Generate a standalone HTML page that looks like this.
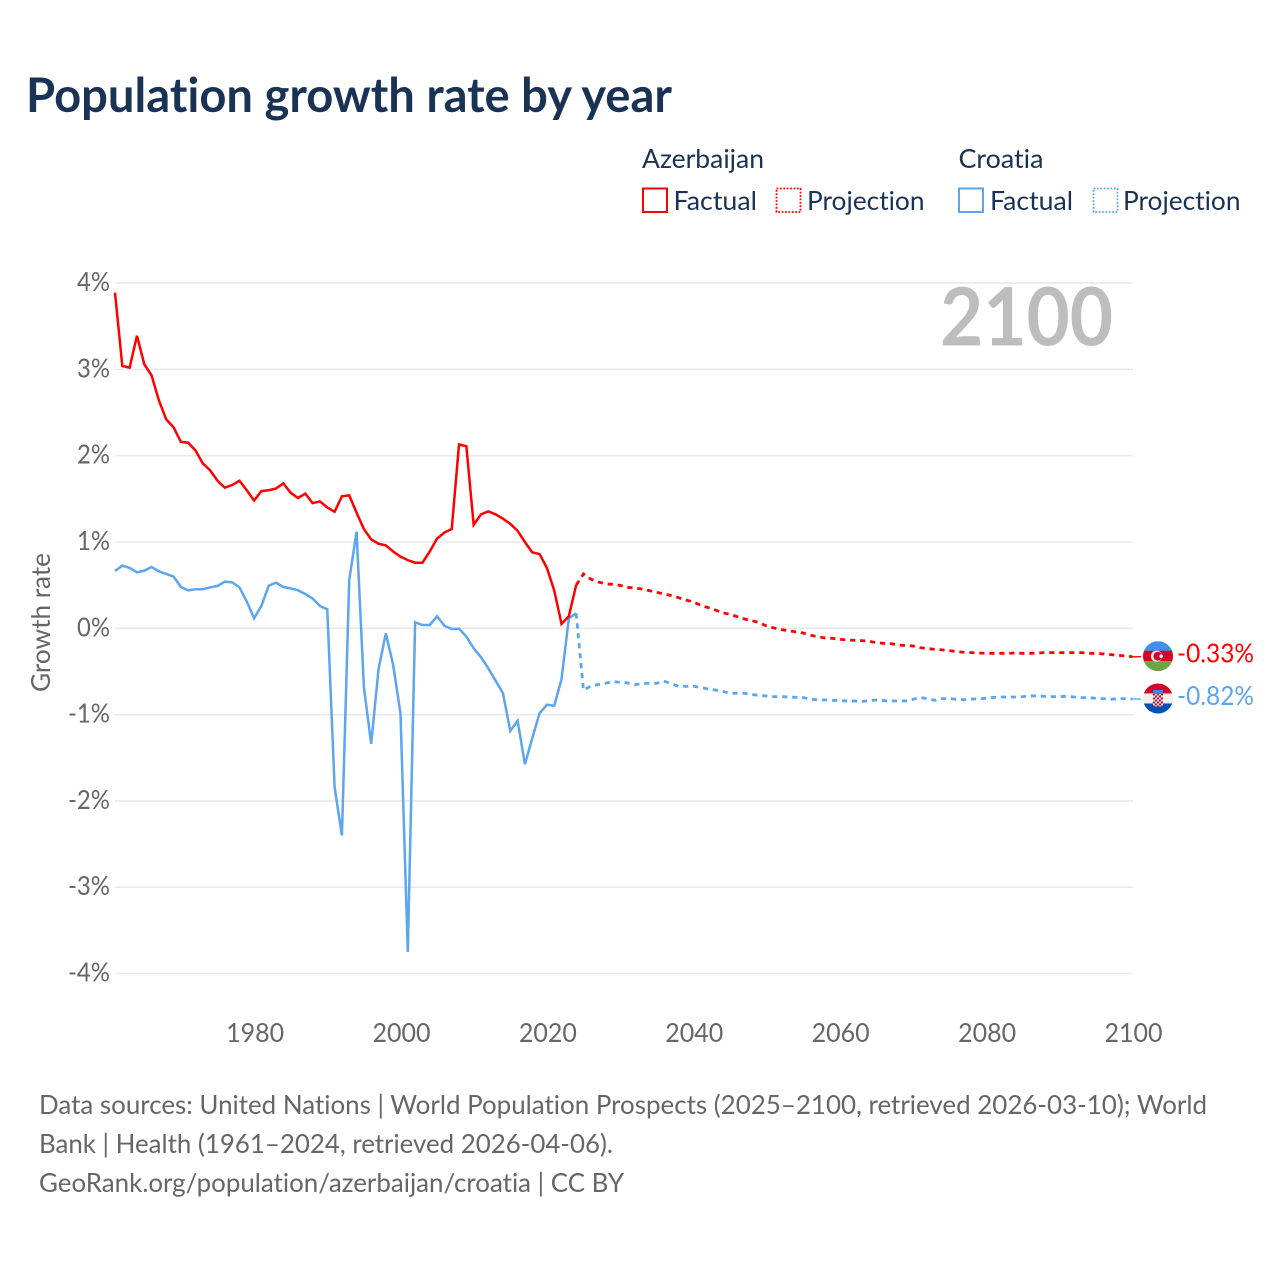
<!DOCTYPE html>
<html lang="en">
<head>
<meta charset="utf-8">
<title>Population growth rate by year</title>
<style>
html,body{margin:0;padding:0;background:#fff;}
svg{display:block;}
text{font-family:"Lato","Carlito","Liberation Sans",sans-serif;font-variant-ligatures:none;font-feature-settings:"liga" 0,"clig" 0;}
</style>
</head>
<body>
<svg id="chart" xmlns="http://www.w3.org/2000/svg" width="1280" height="1280" viewBox="0 0 1280 1280">
  <defs>
    <clipPath id="flag-clip-az"><circle cx="0" cy="0" r="15"/></clipPath>
    <clipPath id="flag-clip-hr"><circle cx="0" cy="0" r="15"/></clipPath>
    <pattern id="checker" x="-5" y="-5" width="4" height="4" patternUnits="userSpaceOnUse">
      <rect width="4" height="4" fill="#f0f0f0"/>
      <rect width="2" height="2" fill="#d80027"/>
      <rect x="2" y="2" width="2" height="2" fill="#d80027"/>
    </pattern>
  </defs>
  <rect width="1280" height="1280" fill="#ffffff"/>
  <text x="26" y="112" font-size="47.5" font-weight="700" fill="#1a3354" textLength="646" lengthAdjust="spacingAndGlyphs">Population growth rate by year</text>

  <g font-size="26.5" fill="#1a3354">
    <text x="642" y="168" textLength="122" lengthAdjust="spacingAndGlyphs">Azerbaijan</text>
    <rect x="643" y="188.5" width="24" height="23.5" fill="none" stroke="#ff0000" stroke-width="2"/>
    <text x="673.5" y="210" textLength="83.5" lengthAdjust="spacingAndGlyphs">Factual</text>
    <rect x="776.5" y="188.5" width="24" height="23.5" fill="none" stroke="#ff0000" stroke-width="1.8" stroke-dasharray="1.8 1.6"/>
    <text x="807" y="210" textLength="117.5" lengthAdjust="spacingAndGlyphs">Projection</text>
    <text x="958.5" y="168" textLength="85" lengthAdjust="spacingAndGlyphs">Croatia</text>
    <rect x="959" y="188.5" width="24" height="23.5" fill="none" stroke="#5ca5ef" stroke-width="2"/>
    <text x="990" y="210" textLength="83" lengthAdjust="spacingAndGlyphs">Factual</text>
    <rect x="1093.5" y="188.5" width="24" height="23.5" fill="none" stroke="#5ca5ef" stroke-width="1.8" stroke-dasharray="1.8 1.6"/>
    <text x="1123" y="210" textLength="117.5" lengthAdjust="spacingAndGlyphs">Projection</text>
  </g>

  <g id="grid"></g>
  <g id="y-ticks"></g>
  <g id="x-ticks"></g>

  <text x="940" y="345.5" font-size="80.5" font-weight="700" fill="#bdbdbd" textLength="173" lengthAdjust="spacingAndGlyphs">2100</text>
  <text transform="translate(50 622.5) rotate(-90)" text-anchor="middle" font-size="26.5" fill="#666666" textLength="139" lengthAdjust="spacingAndGlyphs">Growth rate</text>

  <g id="series"></g>

  <g id="end-az">
    <g clip-path="url(#flag-clip-az)">
      <rect x="-15" y="-15" width="30" height="10" fill="#3f8fec"/>
      <rect x="-15" y="-5.4" width="30" height="10.4" fill="#d80027"/>
      <rect x="-15" y="5" width="30" height="10" fill="#6da544"/>
      <circle cx="-1.5" cy="0" r="5.6" fill="#f0f0f0"/>
      <circle cx="-0.2" cy="0" r="4.4" fill="#d80027"/>
      <circle cx="3.2" cy="0" r="1.8" fill="#f0f0f0"/>
    </g>
    <text id="end-az-text" x="19" y="6.5" font-size="26.5" fill="#ff0000" textLength="77" lengthAdjust="spacingAndGlyphs"></text>
  </g>
  <g id="end-hr">
    <g clip-path="url(#flag-clip-hr)">
      <rect x="-15" y="-15" width="30" height="10" fill="#d80027"/>
      <rect x="-15" y="-5" width="30" height="10" fill="#f0f0f0"/>
      <rect x="-15" y="5" width="30" height="10" fill="#0052b4"/>
      <rect x="-5" y="-5" width="10" height="13" fill="url(#checker)"/>
      <rect x="-5" y="-8.5" width="10" height="4" fill="#338af3"/>
    </g>
    <text id="end-hr-text" x="19" y="6.5" font-size="26.5" fill="#5ca5ef" textLength="77" lengthAdjust="spacingAndGlyphs"></text>
  </g>

  <g font-size="26.5" fill="#666666">
    <text x="39" y="1114" textLength="1168" lengthAdjust="spacingAndGlyphs">Data sources: United Nations | World Population Prospects (2025–2100, retrieved 2026-03-10); World</text>
    <text x="39" y="1153" textLength="574" lengthAdjust="spacingAndGlyphs">Bank | Health (1961–2024, retrieved 2026-04-06).</text>
    <a><text x="39" y="1192" textLength="585" lengthAdjust="spacingAndGlyphs">GeoRank.org/population/azerbaijan/croatia | CC BY</text></a>
  </g>
</svg>

<script>
const yTickValues = [4, 3, 2, 1, 0, -1, -2, -3, -4];
const yTickLabels = ["4%", "3%", "2%", "1%", "0%", "-1%", "-2%", "-3%", "-4%"];
const xTickValues = [1980, 2000, 2020, 2040, 2060, 2080, 2100];
const xTickLabels = ["1980", "2000", "2020", "2040", "2060", "2080", "2100"];

const factualYears = [1961,1962,1963,1964,1965,1966,1967,1968,1969,1970,
  1971,1972,1973,1974,1975,1976,1977,1978,1979,1980,
  1981,1982,1983,1984,1985,1986,1987,1988,1989,1990,
  1991,1992,1993,1994,1995,1996,1997,1998,1999,2000,
  2001,2002,2003,2004,2005,2006,2007,2008,2009,2010,
  2011,2012,2013,2014,2015,2016,2017,2018,2019,2020,
  2021,2022,2023,2024];
const projectionYears = [2024,
  2025,2026,2027,2028,2029,2030,2031,2032,2033,2034,
  2035,2036,2037,2038,2039,2040,2041,2042,2043,2044,
  2045,2046,2047,2048,2049,2050,2051,2052,2053,2054,
  2055,2056,2057,2058,2059,2060,2061,2062,2063,2064,
  2065,2066,2067,2068,2069,2070,2071,2072,2073,2074,
  2075,2076,2077,2078,2079,2080,2081,2082,2083,2084,
  2085,2086,2087,2088,2089,2090,2091,2092,2093,2094,
  2095,2096,2097,2098,2099,2100];

const azerbaijanFactual = [3.89,3.04,3.02,3.39,3.06,2.93,2.64,2.42,2.33,2.16,
  2.15,2.06,1.91,1.83,1.71,1.63,1.66,1.71,1.60,1.48,
  1.59,1.60,1.62,1.68,1.57,1.51,1.56,1.45,1.47,1.40,
  1.35,1.53,1.54,1.34,1.15,1.03,0.98,0.96,0.89,0.83,
  0.79,0.76,0.76,0.89,1.04,1.11,1.15,2.13,2.11,1.20,
  1.32,1.355,1.32,1.27,1.21,1.13,1.00,0.88,0.86,0.70,
  0.44,0.05,0.14,0.50];
const azerbaijanProjection = [0.50,
  0.63,0.57,0.537,0.514,0.51,0.498,0.475,0.467,0.456,0.436,
  0.417,0.398,0.379,0.355,0.328,0.305,0.267,0.24,0.212,0.18,
  0.162,0.135,0.108,0.089,0.066,0.027,0.004,-0.015,-0.027,-0.042,
  -0.054,-0.08,-0.097,-0.112,-0.116,-0.127,-0.135,-0.139,-0.143,-0.15,
  -0.166,-0.174,-0.178,-0.193,-0.2,-0.205,-0.224,-0.236,-0.243,-0.25,
  -0.259,-0.27,-0.278,-0.282,-0.286,-0.29,-0.29,-0.29,-0.29,-0.286,
  -0.29,-0.29,-0.286,-0.282,-0.282,-0.282,-0.282,-0.282,-0.282,-0.29,
  -0.29,-0.297,-0.305,-0.313,-0.32,-0.33];
const croatiaFactual = [0.664,0.726,0.70,0.649,0.668,0.71,0.66,0.63,0.60,0.479,
  0.44,0.452,0.452,0.475,0.49,0.54,0.533,0.475,0.31,0.116,
  0.259,0.494,0.529,0.479,0.463,0.44,0.398,0.344,0.259,0.22,
  -1.84,-2.40,0.56,1.12,-0.68,-1.34,-0.475,-0.058,-0.425,-0.985,
  -3.75,0.07,0.038,0.038,0.14,0.03,-0.008,-0.004,-0.097,-0.232,
  -0.336,-0.464,-0.607,-0.753,-1.19,-1.07,-1.576,-1.275,-0.985,-0.885,
  -0.897,-0.591,0.116,0.174];
const croatiaProjection = [0.174,
  -0.718,-0.668,-0.653,-0.637,-0.618,-0.626,-0.633,-0.653,-0.641,-0.637,
  -0.637,-0.614,-0.641,-0.672,-0.672,-0.672,-0.684,-0.703,-0.715,-0.73,
  -0.753,-0.753,-0.753,-0.769,-0.776,-0.784,-0.792,-0.792,-0.796,-0.80,
  -0.803,-0.819,-0.83,-0.83,-0.834,-0.838,-0.842,-0.842,-0.85,-0.838,
  -0.83,-0.838,-0.842,-0.842,-0.842,-0.823,-0.803,-0.815,-0.834,-0.815,
  -0.815,-0.823,-0.827,-0.819,-0.819,-0.811,-0.80,-0.796,-0.796,-0.796,
  -0.792,-0.784,-0.784,-0.788,-0.792,-0.792,-0.788,-0.796,-0.803,-0.803,
  -0.811,-0.815,-0.823,-0.815,-0.815,-0.82];
const endValueLabels = ["-0.33%", "-0.82%"];

const SVG_NS = "http://www.w3.org/2000/svg";
const xScale = function (year) { return 115 + (year - 1961) * 7.32; };
const yScale = function (value) { return 628.3 - 86.3 * value; };
const pathFrom = function (years, values) {
  return values.map(function (v, i) {
    return (i ? "L" : "M") + xScale(years[i]).toFixed(2) + " " + yScale(v).toFixed(2);
  }).join(" ");
};

const grid = document.getElementById("grid");
const yTicks = document.getElementById("y-ticks");
yTickValues.forEach(function (v, i) {
  const line = document.createElementNS(SVG_NS, "line");
  
  
  line.setAttribute("x1", 115);
  line.setAttribute("x2", 1133);
  line.setAttribute("y1", yScale(v));
  line.setAttribute("y2", yScale(v));
  line.setAttribute("stroke", "#e9e9e9");
  line.setAttribute("stroke-width", 1.6);
  grid.appendChild(line);
  const t = document.createElementNS(SVG_NS, "text");
  
  
  t.setAttribute("x", 110);
  t.setAttribute("y", yScale(v) + 8);
  t.setAttribute("text-anchor", "end");
  t.setAttribute("font-size", 26.5);
  t.setAttribute("fill", "#666666");
  t.setAttribute("textLength", yTickLabels[i].length === 3 ? 42 : 33);
  t.setAttribute("lengthAdjust", "spacingAndGlyphs");
  t.textContent = yTickLabels[i];
  yTicks.appendChild(t);
});

const xTicks = document.getElementById("x-ticks");
xTickValues.forEach(function (v, i) {
  const t = document.createElementNS(SVG_NS, "text");
  
  
  t.setAttribute("x", xScale(v) + 1);
  t.setAttribute("y", 1042);
  t.setAttribute("text-anchor", "middle");
  t.setAttribute("font-size", 26.5);
  t.setAttribute("fill", "#666666");
  t.setAttribute("textLength", 58);
  t.setAttribute("lengthAdjust", "spacingAndGlyphs");
  t.textContent = xTickLabels[i];
  xTicks.appendChild(t);
});

const seriesGroup = document.getElementById("series");

const croatiaFactualLine = document.createElementNS(SVG_NS, "path");


croatiaFactualLine.setAttribute("d", pathFrom(factualYears, croatiaFactual));
croatiaFactualLine.setAttribute("fill", "none");
croatiaFactualLine.setAttribute("stroke", "#5ca5ef");
croatiaFactualLine.setAttribute("stroke-width", 2.5);
seriesGroup.appendChild(croatiaFactualLine);

const croatiaProjectionLine = document.createElementNS(SVG_NS, "path");


croatiaProjectionLine.setAttribute("d", pathFrom(projectionYears, croatiaProjection));
croatiaProjectionLine.setAttribute("fill", "none");
croatiaProjectionLine.setAttribute("stroke", "#5ca5ef");
croatiaProjectionLine.setAttribute("stroke-width", 2.8);
croatiaProjectionLine.setAttribute("stroke-dasharray", "5.2 4.8");
seriesGroup.appendChild(croatiaProjectionLine);

const azerbaijanFactualLine = document.createElementNS(SVG_NS, "path");


azerbaijanFactualLine.setAttribute("d", pathFrom(factualYears, azerbaijanFactual));
azerbaijanFactualLine.setAttribute("fill", "none");
azerbaijanFactualLine.setAttribute("stroke", "#ff0000");
azerbaijanFactualLine.setAttribute("stroke-width", 2.5);
seriesGroup.appendChild(azerbaijanFactualLine);

const azerbaijanProjectionLine = document.createElementNS(SVG_NS, "path");


azerbaijanProjectionLine.setAttribute("d", pathFrom(projectionYears, azerbaijanProjection));
azerbaijanProjectionLine.setAttribute("fill", "none");
azerbaijanProjectionLine.setAttribute("stroke", "#ff0000");
azerbaijanProjectionLine.setAttribute("stroke-width", 2.8);
azerbaijanProjectionLine.setAttribute("stroke-dasharray", "5.2 4.8");
seriesGroup.appendChild(azerbaijanProjectionLine);

const azLast = azerbaijanProjection[azerbaijanProjection.length - 1];
const hrLast = croatiaProjection[croatiaProjection.length - 1];

const azLeader = document.createElementNS(SVG_NS, "line");


azLeader.setAttribute("x1", xScale(2100));
azLeader.setAttribute("x2", 1141);
azLeader.setAttribute("y1", yScale(azLast));
azLeader.setAttribute("y2", yScale(azLast));
azLeader.setAttribute("stroke", "#ff0000");
azLeader.setAttribute("stroke-width", 1.4);
seriesGroup.appendChild(azLeader);

const hrLeader = document.createElementNS(SVG_NS, "line");


hrLeader.setAttribute("x1", xScale(2100));
hrLeader.setAttribute("x2", 1141);
hrLeader.setAttribute("y1", yScale(hrLast));
hrLeader.setAttribute("y2", yScale(hrLast));
hrLeader.setAttribute("stroke", "#5ca5ef");
hrLeader.setAttribute("stroke-width", 1.4);
seriesGroup.appendChild(hrLeader);

document.getElementById("end-az").setAttribute("transform", "translate(1158 " + (yScale(azLast) - 0.6) + ")");
document.getElementById("end-hr").setAttribute("transform", "translate(1158 " + (yScale(hrLast) - 0.6) + ")");
document.getElementById("end-az-text").textContent = endValueLabels[0];
document.getElementById("end-hr-text").textContent = endValueLabels[1];
</script>
</body>
</html>
